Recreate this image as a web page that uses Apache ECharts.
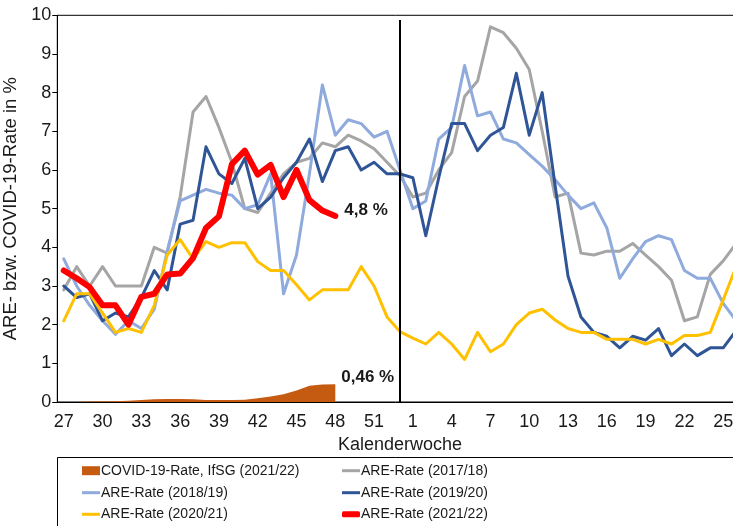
<!DOCTYPE html>
<html>
<head>
<meta charset="utf-8">
<script src="https://cdn.jsdelivr.net/npm/echarts@6/dist/echarts.min.js"></script>
<style>
html,body{margin:0;padding:0;background:#fff}
#echarts{width:733px;height:526px}
</style>
</head>
<body>
<div id="echarts"></div>
<script>
// Kalenderwochen 27..53, 1..26
var weeks = ['27','28','29','30','31','32','33','34','35','36','37','38','39','40','41','42','43','44','45','46','47','48','49','50','51','52','53',
	'1','2','3','4','5','6','7','8','9','10','11','12','13','14','15','16','17','18','19','20','21','22','23','24','25','26']

var covid2122 = [0.0,0.0,0.01,0.02,0.02,0.03,0.05,0.07,0.08,0.08,0.07,0.05,0.05,0.05,0.06,0.1,0.14,0.2,0.3,0.42,0.45,0.46]

var are1718 = [2.9,3.5,3.0,3.5,3.0,3.0,3.0,4.0,3.85,5.3,7.5,7.9,7.1,6.2,5.0,4.9,5.4,5.9,6.2,6.3,6.7,6.6,6.9,6.75,6.55,6.2,5.85,
	5.3,5.4,6.0,6.45,7.9,8.3,9.7,9.55,9.15,8.6,7.0,5.3,5.4,3.85,3.8,3.9,3.9,4.1,3.8,3.5,3.15,2.1,2.2,3.3,3.65,4.1]

var are1819 = [3.7,3.0,2.5,2.1,1.75,2.1,1.9,2.4,3.9,5.2,5.35,5.5,5.4,5.35,5.0,5.1,5.9,2.8,3.8,5.9,8.2,6.9,7.3,7.2,6.85,7.0,6.0,
	5.0,5.2,6.8,7.1,8.7,7.4,7.5,6.8,6.7,6.4,6.1,5.75,5.35,5.0,5.15,4.5,3.2,3.7,4.15,4.3,4.2,3.4,3.2,3.2,2.55,2.1]

var are1920 = [3.0,2.7,2.8,2.1,2.3,2.2,2.7,3.4,2.9,4.6,4.7,6.6,5.9,5.65,6.3,5.0,5.3,5.8,6.2,6.8,5.7,6.5,6.6,6.0,6.2,5.9,5.9,
	5.8,4.3,5.8,7.2,7.2,6.5,6.9,7.1,8.5,6.9,8.0,5.6,3.25,2.2,1.8,1.7,1.4,1.7,1.6,1.9,1.2,1.5,1.2,1.4,1.4,1.85]

var are2021 = [2.1,2.8,2.8,2.3,1.8,1.9,1.8,2.5,3.8,4.2,3.7,4.15,4.0,4.12,4.12,3.63,3.4,3.4,3.03,2.64,2.9,2.9,2.9,3.5,3.0,2.2,1.82,
	1.65,1.5,1.8,1.5,1.1,1.8,1.3,1.5,2.0,2.3,2.4,2.12,1.9,1.8,1.8,1.62,1.62,1.62,1.5,1.62,1.5,1.72,1.72,1.8,2.64,3.5]

var are2122 = [3.4,3.2,2.97,2.5,2.5,2.0,2.72,2.8,3.3,3.32,3.72,4.5,4.8,6.15,6.5,5.88,6.13,5.3,6.0,5.22,4.95,4.81]

var yTicks = {min:0, max:10, interval:1}

var font = "'Liberation Sans', Arial, sans-serif"
var txt = '#1a1a1a'

function pct(d){ return function(p){ return p.value.toFixed(d).replace('.', ',') + ' %' } }

function lineSerie(name, data, color, width){
	return {
		name: name,
		type: 'line',
		symbol: 'none',
		data: data,
		itemStyle: {color: color},
		lineStyle: {color: color, width: width, join: 'round', cap: 'round'}
	}
}

// ein Legendeneintrag pro Feld (2 Spalten x 3 Zeilen)
function legendItem(name, icon, h, left, cy){
	return {
		orient: 'horizontal', left: left, top: cy - 9, padding: 0,
		itemWidth: 18, itemHeight: h, icon: icon,
		textStyle: {fontSize: 14, color: txt, fontFamily: font, lineHeight: 18, padding: [0, 0, 0, -4]},
		data: [name]
	}
}

var chart = echarts.init(document.getElementById('echarts'))

var red = lineSerie('ARE-Rate (2021/22)', are2122, '#ff0000', 6)
red.z = 5
red.endLabel = {show: true, formatter: pct(1), distance: 9, offset: [0, -6],
	fontFamily: font, fontSize: 17, fontWeight: 'bold', color: txt}

var gray = lineSerie('ARE-Rate (2017/18)', are1718, '#a5a5a5', 3)
gray.markLine = {
	silent: true, symbol: 'none', label: {show: false},
	lineStyle: {color: '#000', width: 2, type: 'solid'},
	data: [[{coord: ['53', 0]}, {coord: ['53', 9.88]}]]
}

var option = {
	animation: false,
	backgroundColor: '#fff',
	textStyle: {fontFamily: font},
	grid: {left: 57.3, top: 15.3, width: 685.3, height: 386.7, outerBoundsMode: 'none', containLabel: false,
		show: true, borderColor: '#000', borderWidth: 1},
	xAxis: {
		type: 'category',
		data: weeks,
		boundaryGap: true,
		name: 'Kalenderwoche',
		nameLocation: 'middle',
		nameGap: 27,
		nameTextStyle: {fontSize: 18, color: txt, fontFamily: font},
		axisLine: {lineStyle: {color: '#000', width: 1}},
		axisTick: {interval: 0, length: 5, lineStyle: {color: '#000'}},
		axisLabel: {interval: 2, margin: 11, fontSize: 18, color: txt, fontFamily: font},
		splitLine: {show: false}
	},
	yAxis: {
		type: 'value',
		min: yTicks.min, max: yTicks.max, interval: yTicks.interval,
		name: 'ARE- bzw. COVID-19-Rate in %',
		nameLocation: 'middle',
		nameGap: 33,
		nameTextStyle: {fontSize: 18.5, color: txt, fontFamily: font},
		axisLine: {show: true, lineStyle: {color: '#000', width: 1}},
		axisTick: {show: true, length: 5, lineStyle: {color: '#000'}},
		axisLabel: {margin: 6, fontSize: 18, color: txt, fontFamily: font},
		splitLine: {show: false}
	},
	legend: [
		legendItem('COVID-19-Rate, IfSG (2021/22)', 'rect', 9, 82, 470.7),
		legendItem('ARE-Rate (2018/19)', 'rect', 3, 82, 492.7),
		legendItem('ARE-Rate (2020/21)', 'rect', 3, 82, 514.3),
		legendItem('ARE-Rate (2017/18)', 'rect', 3, 342, 470.7),
		legendItem('ARE-Rate (2019/20)', 'rect', 3, 342, 492.7),
		legendItem('ARE-Rate (2021/22)', 'roundRect', 6, 342, 514.3)
	],
	graphic: [{
		type: 'rect', silent: true,
		shape: {x: 57.5, y: 457.5, width: 720, height: 100},
		style: {fill: 'none', stroke: '#000', lineWidth: 1}
	}],
	series: [
		{
			name: 'COVID-19-Rate, IfSG (2021/22)',
			type: 'line',
			symbol: 'none',
			data: covid2122,
			itemStyle: {color: '#c55a11'},
			lineStyle: {width: 0},
			areaStyle: {color: '#c55a11', opacity: 1},
			endLabel: {show: true, formatter: pct(2), distance: 6, offset: [0, -7],
				fontFamily: font, fontSize: 17, fontWeight: 'bold', color: txt}
		},
		gray,
		lineSerie('ARE-Rate (2018/19)', are1819, '#8faadc', 3),
		lineSerie('ARE-Rate (2019/20)', are1920, '#2f5597', 3),
		lineSerie('ARE-Rate (2020/21)', are2021, '#ffc000', 3),
		red
	]
}

chart.setOption(option)
</script>
</body>
</html>
